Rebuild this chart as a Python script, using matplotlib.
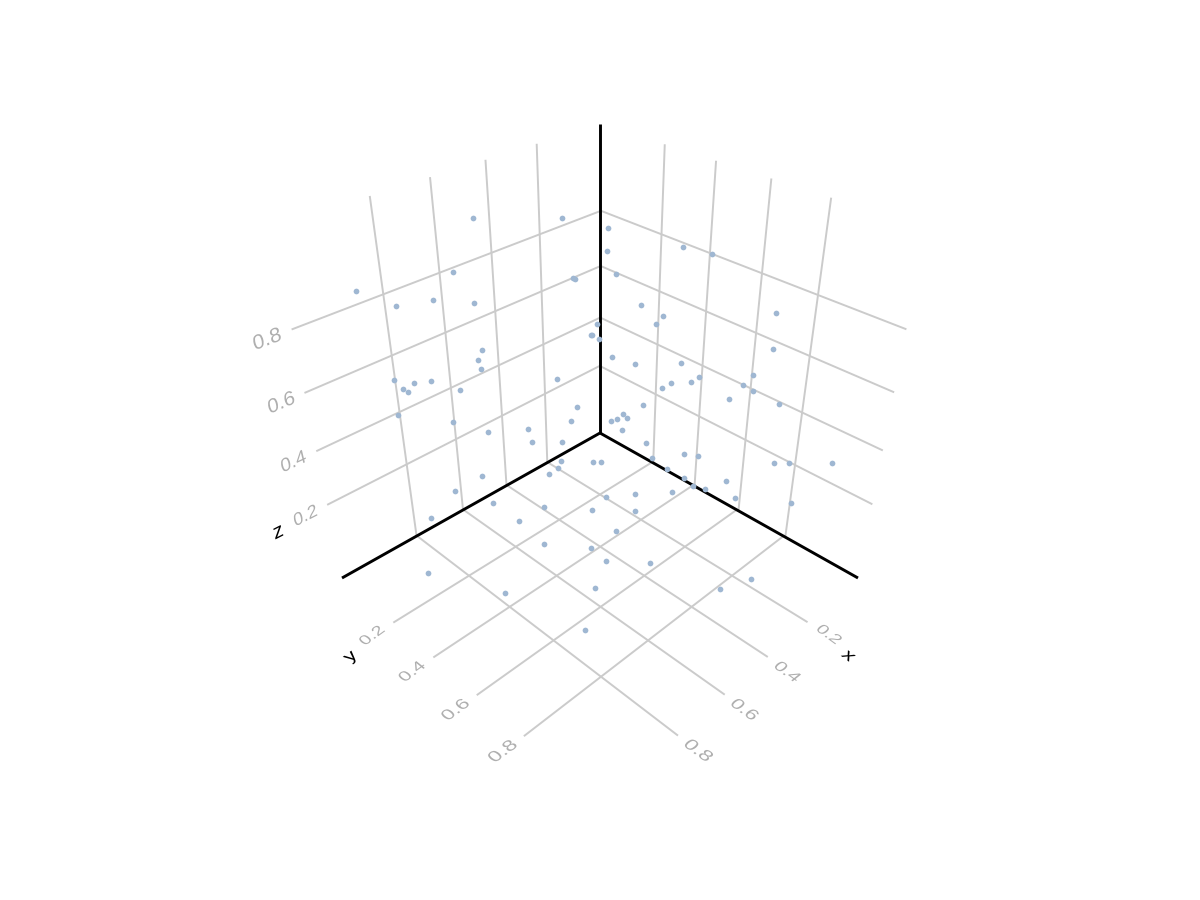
import numpy as np
import matplotlib
matplotlib.use("Agg")
import matplotlib.pyplot as plt
from matplotlib.patheffects import AbstractPathEffect
from matplotlib.transforms import Affine2D

W, H = 1200, 900
GRID = "#cbcbcb"
LABEL = "#afafaf"
POINT = "#9fb7d2"

TICKS = [0.2, 0.4, 0.6, 0.8]
TICK_LABELS = ["0.2", "0.4", "0.6", "0.8"]
LABEL_SIZES = [13.5, 14.2, 15, 15.5]  # nearer labels are drawn larger

# projected position of each point
point_sx = [472.7, 561.7, 453.3, 356.3, 395.7, 432.7, 474.0, 572.7, 575.3, 597.3, 590.7, 592.3,
            599.3, 482.3, 477.7, 481.3, 394.3, 403.0, 408.0, 413.7, 431.3, 459.7, 556.7, 398.3,
            453.3, 487.7, 528.0, 532.3, 561.7, 577.3, 571.3,
            608.3, 607.3, 616.3, 683.3, 711.7, 641.3, 663.3, 656.0, 776.0, 772.7, 612.3, 634.7,
            680.7, 699.3, 690.7, 670.7, 661.7, 753.0, 743.3, 753.0, 728.7, 778.7, 643.3, 622.7,
            627.0, 617.3, 611.3, 622.0, 646.0,
            560.7, 593.3, 601.5, 558.0, 549.0, 481.7, 454.7, 492.7, 543.7, 592.0, 431.3, 519.3,
            543.7, 591.0, 428.3, 595.0, 504.7, 584.7,
            652.3, 684.0, 698.3, 666.7, 684.3, 692.7, 705.0, 726.3, 735.0, 672.0, 634.7, 606.3,
            635.0, 616.0, 605.7, 650.3, 751.0, 720.0, 774.0, 788.7, 831.7, 790.7]
point_sy = [217.7, 217.7, 272.3, 291.3, 306.0, 299.7, 303.3, 277.7, 278.7, 324.3, 335.3, 335.0,
            339.0, 349.7, 360.0, 368.7, 380.3, 388.7, 392.3, 383.0, 380.7, 389.7, 379.0, 414.7,
            422.3, 432.0, 428.7, 442.0, 442.3, 407.3, 420.7,
            228.0, 251.3, 274.3, 247.0, 254.3, 304.7, 316.0, 323.7, 312.7, 348.7, 357.3, 363.7,
            363.0, 377.3, 382.3, 383.3, 387.7, 374.7, 385.0, 391.3, 399.0, 404.0, 405.3, 414.0,
            417.7, 419.3, 421.3, 430.0, 442.7,
            461.3, 461.7, 462.0, 468.3, 473.7, 476.0, 490.7, 502.7, 507.3, 510.3, 517.7, 521.0,
            544.3, 548.0, 573.0, 588.0, 593.3, 629.7,
            457.7, 454.3, 456.0, 468.7, 477.7, 486.3, 489.0, 480.7, 498.0, 491.7, 493.7, 496.7,
            510.7, 531.0, 561.0, 562.7, 579.3, 589.0, 463.3, 462.7, 462.7, 503.3]
point_sx = np.array(point_sx) - 0.2
point_sy = np.array(point_sy) - 0.2

# where the black axes meet and end
ORIGIN = (600, 433)
X_END = (342, 578)
Y_END = (858, 578)
Z_END = (600, 124)

# plane position of four tick crossings -> screen position
FLOOR_SRC = [(0.2, 0.2), (0.8, 0.2), (0.2, 0.8), (0.8, 0.8)]
FLOOR_DST = [(600, 494.5), (469, 575.7), (732, 575.7), (601, 676.7)]
WALL_SRC = [(0.2, 0.2), (0.8, 0.2), (0.2, 0.8), (0.8, 0.8)]
LEFT_DST = [(545, 393.8), (406.7, 464.3), (539.7, 234.3), (383.3, 294.3)]
RIGHT_DST = [(655.7, 394.3), (795, 465), (661.5, 234.3), (818, 295)]

# label centres on screen
Z_LABEL_POS = [(305.7, 516.7), (293.5, 462), (281.5, 403.3), (267.3, 340)]
Y_LABEL_POS = [(372.7, 636), (412.3, 671.7), (456, 710), (503.3, 751.7)]
X_LABEL_POS = [(828.3, 635), (787, 672), (744, 710), (697.7, 751)]


def fit_plane(src, dst):
    rows, rhs = [], []
    for (a, b), (sx, sy) in zip(src, dst):
        rows.append([a, b, 1, 0, 0, 0, -a * sx, -b * sx])
        rows.append([0, 0, 0, a, b, 1, -a * sy, -b * sy])
        rhs += [sx, sy]
    return np.append(np.linalg.solve(np.array(rows), np.array(rhs)), 1).reshape(3, 3)


def project(m, a, b):
    p = m @ np.array([a, b, 1.0])
    return p[:2] / p[2]


def unproject(m, sx, sy):
    p = np.linalg.solve(m, np.array([sx, sy, 1.0]))
    return p[:2] / p[2]


class PlaneText(AbstractPathEffect):
    """Lays a text into a plane: u is the baseline, v the glyph up direction (y up)."""

    def __init__(self, pos, u, v):
        super().__init__()
        cx, cy = pos[0], H - pos[1]
        mat = [[u[0], v[0], 0], [u[1], v[1], 0], [0, 0, 1]]
        self.warp = Affine2D().translate(-cx, -cy) + Affine2D(np.array(mat, dtype=float)) + Affine2D().translate(cx, cy)

    def draw_path(self, renderer, gc, tpath, affine, rgbFace=None):
        renderer.draw_path(gc, tpath, affine + self.warp, rgbFace)


def plane_label(ax, pos, s, color, angle, v, size=15.5):
    a = np.radians(angle)
    t = ax.text(pos[0], pos[1], s, color=color, fontsize=size, ha="center", va="center",
                family="Liberation Sans")
    t.set_path_effects([PlaneText(pos, (np.cos(a), np.sin(a)), v)])


floor = fit_plane(FLOOR_SRC, FLOOR_DST)
left = fit_plane(WALL_SRC, LEFT_DST)
right = fit_plane(WALL_SRC, RIGHT_DST)

x_lo, y_lo = unproject(floor, *ORIGIN)
x_hi = unproject(floor, *X_END)[0]
y_hi = unproject(floor, *Y_END)[1]
z_lo = unproject(left, *ORIGIN)[1]
z_hi = unproject(left, *Z_END)[1]
wall_lo = unproject(left, *ORIGIN)[0]
wall_hi = unproject(left, *X_END)[0]
rwall_lo = unproject(right, *ORIGIN)[0]
rwall_hi = unproject(right, *Y_END)[0]

fig = plt.figure(figsize=(W / 100, H / 100), dpi=100, facecolor="white")
ax = fig.add_axes([0, 0, 1, 1])
ax.set_xlim(0, W)
ax.set_ylim(H, 0)
ax.axis("off")


def seg(m, p, q, **kw):
    a = project(m, *p)
    b = project(m, *q)
    ax.plot([a[0], b[0]], [a[1], b[1]], solid_capstyle="butt", **kw)


grid_kw = dict(color=GRID, linewidth=1.4, zorder=1)
for t in TICKS:
    seg(floor, (t, y_lo), (t, y_hi), **grid_kw)
    seg(floor, (x_lo, t), (x_hi, t), **grid_kw)
    seg(left, (t, z_lo), (t, z_hi), **grid_kw)
    seg(left, (wall_lo, t), (wall_hi, t), **grid_kw)
    seg(right, (t, z_lo), (t, z_hi), **grid_kw)
    seg(right, (rwall_lo, t), (rwall_hi, t), **grid_kw)

for end in (X_END, Y_END, Z_END):
    ax.plot([ORIGIN[0], end[0]], [ORIGIN[1], end[1]], color="black", linewidth=2.1,
            solid_capstyle="butt", zorder=2)

# the points sit on top of the black axes
ax.scatter(point_sx, point_sy, s=17, color=POINT, linewidths=0, zorder=3)

for pos, s, ang, fs in zip(Z_LABEL_POS, TICK_LABELS, [27, 25, 23, 21], LABEL_SIZES):
    plane_label(ax, pos, s, LABEL, ang, (-0.22, 0.92), size=fs)
for pos, s, fs in zip(Y_LABEL_POS, TICK_LABELS, LABEL_SIZES):
    plane_label(ax, pos, s, LABEL, 36, (-0.62, 0.5), size=fs)
for pos, s, fs in zip(X_LABEL_POS, TICK_LABELS, LABEL_SIZES):
    plane_label(ax, pos, s, LABEL, -36, (0.62, 0.5), size=fs)

plane_label(ax, (278.3, 532.3), "z", "black", 27, (-0.22, 0.92))
plane_label(ax, (350.7, 656.7), "y", "black", 36, (-0.62, 0.5))
plane_label(ax, (848.3, 656), "x", "black", -36, (0.62, 0.5))

fig.savefig("out.png", dpi=100, facecolor="white")
